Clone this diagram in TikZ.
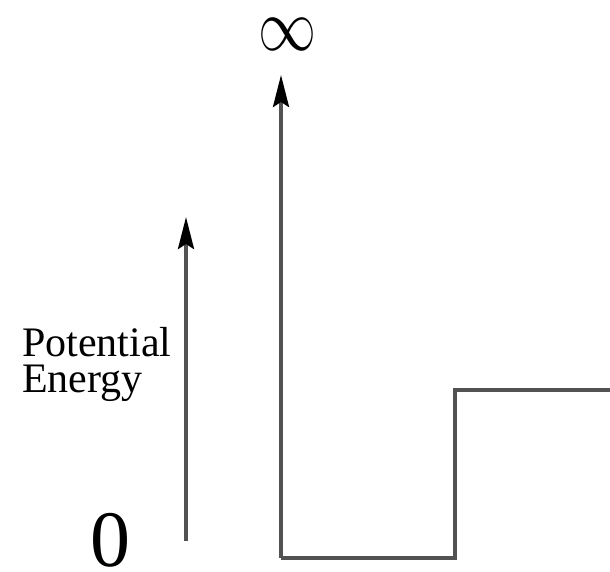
\documentclass[tikz,border=0pt]{standalone}
\usepackage{fontspec}
\setmainfont{Liberation Serif}
\usetikzlibrary{arrows.meta}
\begin{document}
\begin{tikzpicture}[x=1pt,y=-1pt,
  wall/.style={draw=black!68,line width=4pt},
  axis/.style={draw=black!68,line width=3.5pt,-{Stealth[length=32pt,width=16pt,inset=5pt,black]}},
  lbl/.style={font=\fontsize{42}{42}\selectfont,inner sep=0pt,anchor=base west}]
\useasboundingbox (0,0) rectangle (610,572);
\coordinate (a0) at (186,541);
\coordinate (a1) at (186,217);
\coordinate (w0) at (281,75);
\coordinate (w1) at (281,558);
\coordinate (w2) at (455,558);
\coordinate (w3) at (455,390);
\coordinate (w4) at (610,390);
\draw[axis] (a0) -- (a1);
\draw[axis] (w1) -- (w0);
\draw[wall,line join=miter] (w1) -- (w2) -- (w3) -- (w4);
\node[inner sep=0pt] (inf) at (287,34) {\resizebox{58pt}{32pt}{$\infty$}};
\node[lbl] (pot) at (22,356) {Potential};
\node[lbl] (en) at (22,392) {Energy};
\node[inner sep=0pt,anchor=base,font=\fontsize{80}{80}\selectfont] (zero) at (110,566) {0};
\end{tikzpicture}
\end{document}
